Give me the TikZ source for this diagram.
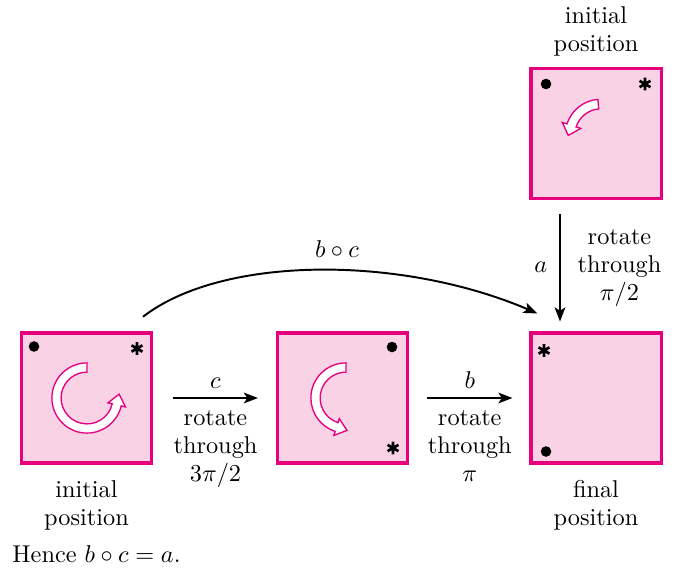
\documentclass[tikz,border=0pt]{standalone}
\usetikzlibrary{arrows.meta,calc,positioning}
\definecolor{boxfill}{RGB}{249,211,229}
\definecolor{boxline}{RGB}{230,0,126}
\newcommand\rotarrow[8]{% center, r, w, a1, a2, hw, L, s
\begin{scope}[shift={(#1)},rotate=#5]
\filldraw[turnarrow] ({#4-(#5)}:{#2+#3}) arc[start angle={#4-(#5)}, end angle=0, radius={#2+#3}] -- (0:{#2+#6}) -- ({#2},{#8*#7}) -- (0:{#2-#6}) -- (0:{#2-#3}) arc[start angle=0, end angle={#4-(#5)}, radius={#2-#3}] -- cycle;
\end{scope}}
\tikzset{
  pbox/.style={draw=boxline, fill=boxfill, line width=1.25pt, minimum size=53.5pt, inner sep=0pt},
  turnarrow/.style={draw=boxline, fill=white, line width=0.55pt, line join=miter},
  conn/.style={-{Stealth[length=5.8pt,width=4.4pt,inset=1.4pt]}, line width=0.8pt},
  lbl/.style={align=center, font=\linespread{0.96}\selectfont},
  asterisk/.pic={\draw[line width=1.1pt] (90:6.3)--(270:6.3) (30:6.3)--(210:6.3) (150:6.3)--(330:6.3);},
}
\begin{document}
\begin{tikzpicture}[x=0.4115pt,y=0.4115pt]
\useasboundingbox (0,0) rectangle (678,572);
% boxes
\node[pbox] (b1) at (86.5,174) {};
\node[pbox] (b2) at (342.5,174) {};
\node[pbox] (b3) at (596,438.5) {};
\node[pbox] (b4) at (596,174) {};
% markers
\fill ($(b1.center)+(-52.5,51.5)$) circle[radius=5.3];
\pic at ($(b1.center)+(50.5,49.5)$) {asterisk};
\fill ($(b2.center)+(49.5,51)$) circle[radius=5.3];
\pic at ($(b2.center)+(50.5,-50)$) {asterisk};
\fill ($(b3.center)+(-50,49.5)$) circle[radius=5.3];
\pic at ($(b3.center)+(49,49.5)$) {asterisk};
\pic at ($(b4.center)+(-52,47.5)$) {asterisk};
\fill ($(b4.center)+(-50,-53.5)$) circle[radius=5.3];
% rotation arrows
\rotarrow{$(b1.center)+(0.5,0)$}{30.5}{4.6}{90}{347}{9}{11}{1}
\rotarrow{$(b2.center)+(3.5,0)$}{30.5}{4.6}{90}{252}{8.8}{11}{1}
\rotarrow{$(b3.center)+(5,-1.5)$}{31}{4.8}{95}{162}{9.7}{10.5}{1}
% connectors
\draw[conn] ($(b1.east)+(20,0)$) -- node[above] {$c$} node[below=1.6pt, lbl] {rotate\\through\\$3\pi/2$} ($(b2.west)+(-18,0)$);
\draw[conn] ($(b2.east)+(18,0)$) -- node[above] {$b$} node[below=1.6pt, lbl] {rotate\\through\\$\pi$} ($(b4.west)+(-17,0)$);
\draw[conn] ($(b3.south)+(-36,-14)$) -- node[left=1.5pt] {$a$} node[right=3.5pt, lbl] {rotate\\through\\$\pi/2$} ($(b4.north)+(-36,10)$);
\draw[conn] ($(b1.north)+(56.5,14.7)$) .. controls +(80,62) and +(-135,58) .. ($(b4.north west)+(8,18)$) node[pos=0.54, above=1.5pt] {$b\circ c$};
% position labels
\node[below=2.9pt of b1, lbl] (l1) {initial\\position};
\node[below=2.9pt of b4, lbl] (l4) {final\\position};
\node[above=1pt of b3, lbl] (l3) {initial\\position};
\node[anchor=base west, inner sep=0pt] (hence) at (12,10) {Hence $b\circ c=a$.};
\end{tikzpicture}
\end{document}
